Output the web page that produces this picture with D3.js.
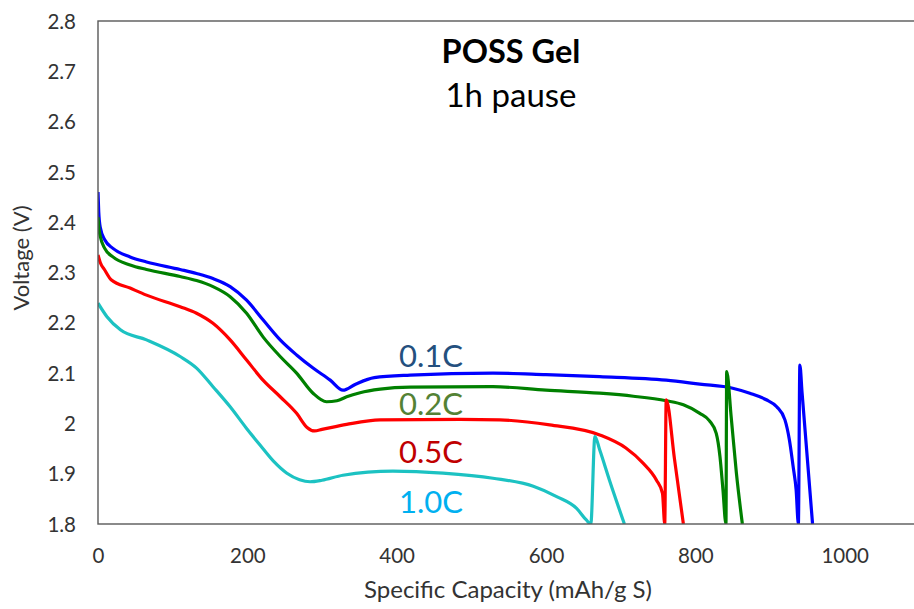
<!DOCTYPE html>
<html>
<head>
<meta charset="utf-8">
<script src="https://cdn.jsdelivr.net/npm/d3@7"></script>
<style>
  body { margin: 0; background: #fff; }
  svg { display: block; }
  text { font-family: Lato, "Open Sans", sans-serif; }
</style>
</head>
<body>
<svg id="chart" width="914" height="609"></svg>
<script>
// Axis ticks
const xTicks = [0, 200, 400, 600, 800, 1000];
const yTicks = [1.8, 1.9, 2.0, 2.1, 2.2, 2.3, 2.4, 2.5, 2.6, 2.7, 2.8];
const yTickLabels = ["1.8", "1.9", "2", "2.1", "2.2", "2.3", "2.4", "2.5", "2.6", "2.7", "2.8"];

// Discharge curves: specific capacity (mAh/g S) and voltage (V)
const seriesNames = ["0.1C", "0.2C", "0.5C", "1.0C"];

const cap01  = [0, 1, 3, 9, 20, 43, 65, 110, 132, 154, 177, 199, 221, 244, 266, 288, 311, 328, 345, 370, 418, 529, 600, 672, 761, 806, 850, 873, 895, 909, 920, 926, 931, 935, 938, 940, 943, 957];
const volt01 = [2.46, 2.42, 2.39, 2.365, 2.348, 2.331, 2.321, 2.306, 2.298, 2.288, 2.272, 2.245, 2.206, 2.166, 2.136, 2.110, 2.086, 2.066, 2.078, 2.091, 2.096, 2.100, 2.097, 2.093, 2.086, 2.078, 2.070, 2.060, 2.047, 2.033, 2.007, 1.967, 1.914, 1.868, 1.800, 2.116, 2.060, 1.800];

const cap02  = [0, 1.5, 3, 9, 20, 43, 65, 110, 132, 154, 177, 199, 221, 244, 266, 288, 306, 320, 333, 351, 378, 418, 529, 600, 672, 717, 761, 784, 806, 819, 828, 833, 837, 841, 842, 848, 855, 863];
const volt02 = [2.41, 2.385, 2.372, 2.348, 2.331, 2.315, 2.306, 2.292, 2.284, 2.272, 2.252, 2.219, 2.172, 2.133, 2.100, 2.060, 2.043, 2.045, 2.053, 2.061, 2.068, 2.072, 2.073, 2.066, 2.060, 2.054, 2.045, 2.037, 2.020, 2.005, 1.980, 1.934, 1.868, 1.800, 2.103, 2.013, 1.901, 1.800];

const cap05  = [0, 3, 9, 18, 43, 65, 110, 132, 154, 177, 199, 221, 244, 266, 280, 290, 300, 333, 378, 485, 538, 605, 672, 707, 730, 748, 756, 759, 761, 772, 784];
const volt05 = [2.335, 2.32, 2.305, 2.285, 2.269, 2.255, 2.232, 2.219, 2.199, 2.166, 2.126, 2.086, 2.053, 2.020, 1.992, 1.985, 1.988, 1.998, 2.007, 2.008, 2.007, 1.997, 1.977, 1.951, 1.921, 1.887, 1.861, 1.800, 2.047, 1.930, 1.800];

const cap10  = [0, 12, 30, 65, 110, 132, 154, 177, 199, 217, 235, 253, 270, 284, 300, 328, 395, 462, 529, 583, 615, 641, 654, 660, 665.5, 672, 685, 705];
const volt10 = [2.239, 2.212, 2.186, 2.166, 2.133, 2.110, 2.073, 2.033, 1.990, 1.957, 1.925, 1.901, 1.888, 1.884, 1.887, 1.897, 1.905, 1.901, 1.891, 1.875, 1.854, 1.831, 1.808, 1.800, 1.974, 1.947, 1.887, 1.800];

const caps  = [cap01, cap02, cap05, cap10];
const volts = [volt01, volt02, volt05, volt10];

// Styling
const lineColors  = ["#0000ff", "#008000", "#ff0000", "#1cc2c2"];
const labelColors = ["#24507e", "#548235", "#c00000", "#00b0f0"];
// Series label anchors, in data units
const labelCap  = [446, 446, 446, 446];
const labelVolt = [2.112, 2.017, 1.921, 1.821];

const svg = d3.select("#chart");
const plot = { left: 98, top: 21, bottom: 524, right: 994 };

const x = d3.scaleLinear().domain([0, 1200]).range([plot.left, plot.right]);
const y = d3.scaleLinear().domain([1.8, 2.8]).range([plot.bottom, plot.top]);

svg.append("defs").append("clipPath").attr("id", "plotClip")
  .append("rect")
  .attr("x", plot.left).attr("y", plot.top)
  .attr("width", plot.right - plot.left).attr("height", plot.bottom - plot.top);

// Curves
const line = d3.line()
  .x(d => x(d[0]))
  .y(d => y(d[1]))
  .curve(d3.curveMonotoneX);

const g = svg.append("g").attr("clip-path", "url(#plotClip)");
seriesNames.forEach((name, i) => {
  const pts = caps[i].map((c, j) => [c, volts[i][j]]);
  g.append("path")
    .datum(pts)
    .attr("d", line)
    .attr("fill", "none")
    .attr("stroke", lineColors[i])
    .attr("stroke-width", 3.2)
    .attr("stroke-linejoin", "round");
});

// Plot frame
svg.append("rect")
  .attr("x", plot.left).attr("y", plot.top)
  .attr("width", plot.right - plot.left).attr("height", plot.bottom - plot.top)
  .attr("fill", "none").attr("stroke", "#595959").attr("stroke-width", 1.4);

// Axes (labels only, no tick marks)
const xAxis = d3.axisBottom(x).tickValues(xTicks).tickSize(0).tickPadding(0).tickFormat(d3.format("d"));
svg.append("g")
  .attr("transform", `translate(0,${plot.bottom})`)
  .call(xAxis)
  .call(a => a.select(".domain").remove())
  .selectAll("text")
  .attr("dy", null)
  .attr("y", 39)
  .attr("font-size", 20.5)
  .attr("font-family", "Lato")
  .attr("fill", "#333");

const yAxis = d3.axisLeft(y).tickValues(yTicks).tickSize(0).tickPadding(0)
  .tickFormat((d, i) => yTickLabels[i]);
svg.append("g")
  .attr("transform", `translate(${plot.left},0)`)
  .call(yAxis)
  .call(a => a.select(".domain").remove())
  .selectAll("text")
  .attr("x", -22)
  .attr("dy", "0.35em")
  .attr("font-size", 20.5)
  .attr("font-family", "Lato")
  .attr("fill", "#333");

// Axis titles
svg.append("text")
  .attr("x", 508).attr("y", 598)
  .attr("text-anchor", "middle")
  .attr("font-size", 24)
  .attr("fill", "#333")
  .text("Specific Capacity (mAh/g S)");

svg.append("text")
  .attr("transform", "translate(29,258) rotate(-90)")
  .attr("text-anchor", "middle")
  .attr("font-size", 22)
  .attr("fill", "#333")
  .text("Voltage (V)");

// Chart title
svg.append("text")
  .attr("x", 511).attr("y", 63)
  .attr("text-anchor", "middle")
  .attr("font-size", 32.5)
  .attr("font-weight", "bold")
  .attr("fill", "#000")
  .text("POSS Gel");
svg.append("text")
  .attr("x", 511).attr("y", 107)
  .attr("text-anchor", "middle")
  .attr("font-size", 33)
  .attr("fill", "#000")
  .text("1h pause");

// Series labels
seriesNames.forEach((name, i) => {
  svg.append("text")
    .attr("x", x(labelCap[i])).attr("y", y(labelVolt[i]))
    .attr("text-anchor", "middle")
    .attr("font-size", 31)
    .attr("fill", labelColors[i])
    .text(name);
});
</script>
</body>
</html>
